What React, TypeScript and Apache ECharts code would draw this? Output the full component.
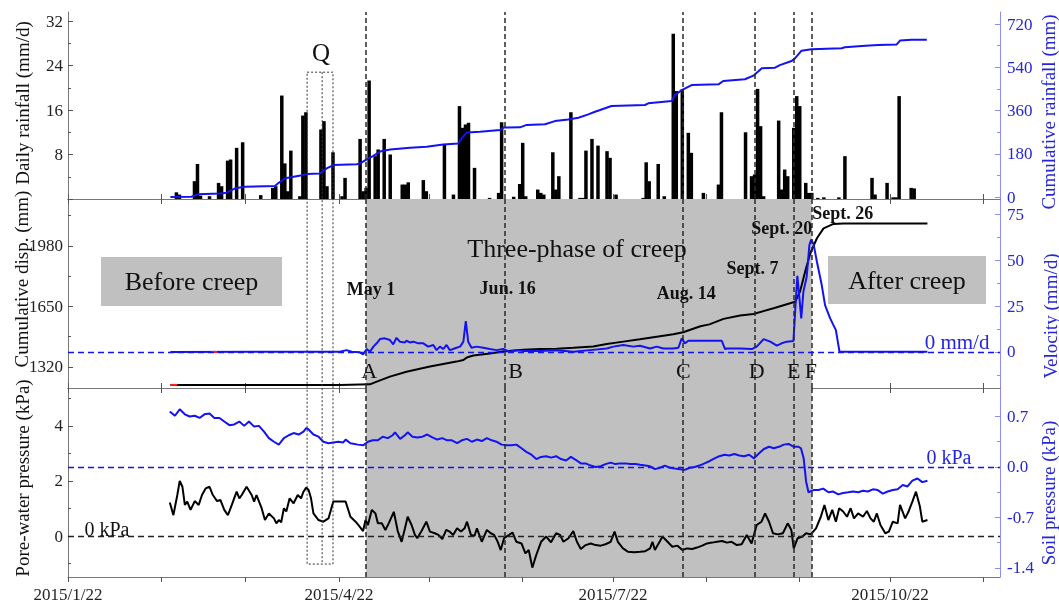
import { useEffect, useRef } from 'react';
import * as echarts from 'echarts';

// Day 0 of the time axis is 2015-01-22; every x value below is a day offset from it.
const START = Date.UTC(2015, 0, 22);
const X_MAX = 309.5;
const MONTH_TICKS = [0, 31, 59, 90, 120, 151, 181, 212, 243, 273, 304];
const DATE_LABELS = [0, 90, 181, 273];

// Daily rainfall (mm/d)
const rainDaily: [number, number][] = [
  [36, 1.2], [37, 0.8], [42, 3.2], [43, 6.3], [44, 0.6], [47, 0.5], [50, 2.9], [51, 2.3], [53, 6.9], [54, 7.1],
  [56, 9.2], [58, 10.2], [64, 0.7], [68, 2.0], [69, 2.3], [71, 18.6], [72, 6.4], [73, 1.4], [74, 8.7], [77, 0.5],
  [78, 15.0], [79, 15.6], [84, 12.5], [85, 14.0], [86, 2.3], [88, 8.4], [91, 0.5], [92, 3.8], [97, 10.8], [98, 1.4],
  [99, 2.0], [100, 21.3], [102, 7.7], [103, 8.9], [105, 10.8], [107, 8.0], [111, 2.6], [112, 2.6], [113, 3.0],
  [118, 3.4], [119, 1.4], [125, 9.8], [128, 0.8], [130, 16.7], [131, 12.8], [132, 13.4], [133, 13.7], [135, 5.6],
  [140, 0.2], [143, 1.1], [144, 13.8], [148, 0.4], [150, 2.7], [151, 10.1], [152, 0.5], [156, 1.7], [157, 1.1],
  [158, 0.8], [161, 8.4], [162, 1.7], [163, 4.1], [167, 15.6], [170, 0.2], [171, 0.2], [172, 8.7], [174, 10.8],
  [176, 9.6], [179, 8.6], [180, 7.4], [182, 0.8], [191, 0.2], [192, 6.6], [193, 3.2], [196, 6.3], [198, 0.5],
  [201, 29.7], [202, 19.4], [204, 19.7], [206, 11.9], [207, 8.3], [211, 1.1], [216, 2.6], [217, 15.6], [225, 12.0],
  [227, 4.1], [228, 4.4], [229, 19.8], [230, 13.1], [231, 0.5], [236, 14.1], [237, 1.7], [238, 5.3], [239, 4.1],
  [241, 12.8], [242, 18.5], [243, 16.7], [245, 2.9], [246, 1.1], [247, 1.1], [249, 0.2], [251, 0.3], [256, 0.3],
  [258, 7.7], [267, 3.8], [268, 0.8], [272, 2.9], [274, 0.3], [275, 0.3], [276, 18.5], [280, 2.0], [281, 1.9],
];

// Cumulative rainfall (mm)
const rainCumulative: [number, number][] = [
  [34, 0], [41, 1], [43, 11], [50.5, 15], [52.7, 18], [55.5, 36], [58.8, 43], [68.7, 46], [69.8, 57], [72.1, 78],
  [78.2, 92], [79.3, 96], [83.7, 98], [85.9, 119], [88.1, 133], [95.9, 136], [97, 140], [99.2, 157], [101.4, 171],
  [103.6, 189], [107, 198], [113.6, 205], [119.1, 209], [124.6, 219], [129.6, 223], [130.7, 244], [132.4, 268],
  [136.8, 272], [143.5, 279], [144.6, 289], [150.1, 290], [152.3, 300], [158.4, 303], [161.7, 316], [166.1, 323],
  [169.5, 330], [172.8, 344], [175, 355], [176.7, 362], [180.5, 379], [191.6, 383], [192.7, 390], [200.5, 400],
  [201.6, 425], [203.8, 445], [207.1, 466], [216, 469], [217.6, 483], [224.8, 490], [227.6, 505], [230.4, 536],
  [234.8, 538], [236.4, 549], [240.3, 566], [241.4, 577], [243.6, 609], [246.9, 615], [256.9, 619], [258, 623],
  [264.8, 630], [269.1, 633], [275.2, 635], [276.3, 651], [280.2, 655], [285.2, 655],
];

// Cumulative displacement (mm)
const displacement: [number, number][] = [
  [34, 1222], [90.3, 1222], [100.3, 1225], [101.9, 1236], [106.9, 1267], [112.4, 1294], [120.2, 1322], [129, 1349],
  [131.3, 1358], [132.4, 1371], [134.6, 1382], [140.1, 1393], [144.5, 1404], [151.2, 1413], [156.7, 1418],
  [162.3, 1419], [167.8, 1424], [174.4, 1431], [178.9, 1445], [184.4, 1458], [189.9, 1471], [195.5, 1485],
  [201, 1498], [204.3, 1509], [207.6, 1528], [210, 1542], [213, 1552], [217.7, 1582], [223.2, 1600], [227.6, 1609],
  [234.3, 1640], [239.8, 1667], [241.5, 1676], [243.1, 1731], [244.8, 1840], [246.5, 1940], [248.7, 2022],
  [250.9, 2076], [254.2, 2100], [257.5, 2103], [285.4, 2103],
];

// Velocity (mm/d)
const velocity: [number, number][] = [
  [34, 0], [90.3, 0.1], [92.5, 1.0], [94.2, 0.1], [96.9, -0.2], [98, -1.3], [99.2, 1.6], [100.3, 0.1], [101.4, 2.9],
  [102.5, 4.7], [103.6, 7.0], [105.2, 7.4], [106.9, 6.5], [108, 4.1], [109.1, 7.7], [110.2, 5.6], [111.9, 5.2],
  [112.4, 6.1], [113.5, 5.2], [114.7, 5.6], [116.3, 4.7], [118, 4.7], [119.6, 2.9], [121.3, 3.8], [122.4, 1.0],
  [123.5, 2.9], [124.6, 1.6], [125.7, 3.8], [126.8, 1.0], [127.9, 1.6], [129, 2.3], [130.2, 2.9], [131.3, 5.6],
  [132.1, 16.8], [132.9, 5.6], [134, 2.3], [135.7, 2.9], [137.9, 2.3], [140.1, 1.6], [142.3, 1.0], [144.5, 1.6],
  [146.8, 0.1], [149, 1.0], [151.2, 0.5], [156.7, 0.5], [162.3, 0.9], [167.8, 0.1], [173.3, 1.0], [178.9, 1.9],
  [181.1, 2.9], [184.4, 3.8], [187.7, 2.9], [189.9, 3.4], [193.3, 1.9], [195.5, 2.9], [197.7, 1.9], [201, 1.9],
  [202.7, 2.3], [203.8, 7.4], [204.9, 4.7], [206, 6.1], [217.1, 6.1], [218.2, 1.6], [218.8, 1.9], [223.2, 1.9],
  [227.1, 1.6], [228.7, 2.9], [231, 7.0], [233.2, 5.6], [235.4, 3.4], [237, 4.7], [238.7, 5.6], [240.9, 5.9],
  [241.8, 30.9], [242.2, 41.4], [242.9, 29.1], [243.5, 18.3], [244.2, 32.7], [245.3, 40.9], [246.2, 58.1],
  [246.8, 61.2], [247.6, 58.5], [248.7, 49.1], [250.3, 36.4], [251.4, 25.5], [253.1, 18.3], [255, 11.9],
  [256.2, 0.1], [285.4, 0.1],
];

// Short red-flagged stretches on the displacement and velocity records
const flaggedDisplacement: [number, number][] = [[34, 1222], [36.3, 1222]];
const flaggedVelocity: [number, number][] = [[47.5, 0], [49.5, 0]];

// Pore-water pressure (kPa)
const porePressure: [number, number][] = [
  [33.8, 1.22], [35.0, 0.76], [36.3, 1.49], [37.1, 2.0], [38.0, 1.79], [38.8, 1.13], [39.6, 1.25], [40.7, 0.95],
  [42.1, 1.27], [43.4, 1.13], [44.5, 1.49], [45.7, 1.73], [47.0, 1.79], [48.1, 1.49], [49.5, 1.27], [50.6, 1.31],
  [51.9, 0.95], [53.1, 0.76], [54.4, 1.13], [56.0, 1.61], [56.9, 1.37], [57.7, 1.49], [59.3, 1.79], [61.0, 1.49],
  [61.8, 1.25], [62.6, 1.49], [64.3, 1.01], [65.4, 0.58], [66.7, 0.82], [68.4, 0.64], [69.2, 0.46], [70.0, 0.58],
  [70.8, 0.5], [71.7, 1.01], [72.5, 0.89], [73.6, 1.37], [74.9, 1.19], [76.3, 1.49], [77.4, 1.37], [78.2, 1.61],
  [79.1, 1.76], [79.9, 1.67], [80.7, 1.37], [81.5, 0.82], [83.2, 0.58], [84.8, 0.52], [86.5, 0.64], [88.1, 1.25],
  [89.7, 1.25], [92.2, 1.25], [93.8, 0.7], [95.5, 0.52], [96.6, 0.38], [98.0, 0.18], [98.8, 0.58], [99.6, 0.4],
  [100.9, 0.95], [102.1, 0.82], [102.9, 0.46], [104.2, 0.46], [105.4, 0.22], [106.5, 0.46], [108.2, 0.88],
  [109.5, 0.18], [110.8, -0.21], [111.9, 0.28], [112.8, 0.7], [114.1, 0.4], [115.2, 0.04], [116.0, -0.08],
  [117.4, 0.18], [119.0, 0.52], [120.2, 0.16], [121.8, 0.1], [123.0, 0.04], [124.3, -0.11], [125.6, 0.22],
  [126.7, 0.16], [127.9, 0.04], [129.2, 0.28], [130.5, 0.16], [131.7, 0.28], [132.5, 0.52], [133.8, 0.04],
  [135.0, 0.01], [135.8, 0.28], [137.4, -0.21], [139.1, 0.22], [140.4, 0.1], [141.5, 0.04], [142.7, -0.21],
  [143.7, -0.51], [144.8, -0.08], [146.5, 0.04], [147.6, 0.13], [148.9, -0.21], [150.6, -0.27], [151.9, -0.63],
  [153.0, -0.51], [154.2, -1.15], [155.5, -0.69], [157.1, -0.21], [158.8, -0.02], [160.4, -0.23], [162.1, 0.1],
  [163.4, 0.04], [164.5, -0.21], [166.2, -0.08], [167.8, 0.18], [169.0, -0.21], [170.3, -0.47], [171.9, -0.33],
  [173.6, -0.27], [175.2, -0.33], [176.9, -0.35], [178.5, -0.3], [180.2, -0.21], [181.5, 0.16], [182.6, -0.21],
  [184.3, -0.45], [185.9, -0.57], [188.0, -0.59], [190.0, -0.57], [191.7, -0.55], [193.3, -0.45], [194.1, -0.21],
  [194.9, -0.51], [196.6, -0.18], [197.4, -0.02], [199.1, -0.21], [200.7, -0.39], [202.4, -0.35], [204.0, -0.51],
  [205.6, -0.45], [207.3, -0.47], [208.9, -0.42], [210.6, -0.35], [212.2, -0.27], [213.9, -0.24], [215.5, -0.21],
  [217.2, -0.18], [218.8, -0.24], [220.4, -0.21], [222.1, -0.33], [223.7, -0.3], [225.4, 0.04], [227.0, -0.27],
  [228.7, 0.4], [230.3, 0.52], [231.5, 0.82], [232.8, 0.52], [234.1, 0.1], [235.7, 0.06], [237.4, 0.1],
  [239.0, 0.46], [240.2, 0.22], [241.0, -0.45], [242.3, -0.08], [243.9, -0.02], [245.1, 0.1], [246.7, 0.06],
  [248.4, 0.28], [250.0, 0.7], [251.2, 1.13], [252.5, 0.58], [253.8, 0.95], [255.0, 0.52], [256.1, 1.01],
  [257.4, 0.89], [258.7, 0.7], [259.9, 1.01], [261.0, 0.64], [262.4, 0.82], [264.0, 0.7], [265.3, 0.91],
  [266.5, 0.64], [267.6, 0.52], [268.6, 0.82], [269.8, 0.4], [271.4, 0.1], [272.6, 0.16], [273.9, 0.52],
  [275.5, 0.46], [276.3, 1.13], [278.0, 0.64], [279.1, 0.88], [280.4, 1.25], [281.6, 1.61], [282.9, 1.07],
  [283.7, 0.52], [285.4, 0.58],
];

// Soil pressure (kPa)
const soilPressure: [number, number][] = [
  [33.8, 0.77], [35.5, 0.71], [37.1, 0.8], [38.8, 0.73], [40.4, 0.7], [42.1, 0.71], [43.7, 0.68], [45.3, 0.73],
  [47.0, 0.74], [48.6, 0.68], [50.3, 0.68], [51.9, 0.63], [53.6, 0.58], [55.2, 0.59], [56.9, 0.63], [58.5, 0.57],
  [60.1, 0.63], [61.8, 0.56], [63.4, 0.57], [65.1, 0.49], [66.7, 0.4], [68.4, 0.35], [70.0, 0.31], [71.7, 0.4],
  [73.3, 0.44], [74.9, 0.47], [76.6, 0.45], [78.2, 0.49], [79.1, 0.54], [79.9, 0.52], [81.5, 0.45], [83.2, 0.42],
  [84.8, 0.35], [86.5, 0.33], [88.1, 0.34], [89.7, 0.35], [91.4, 0.34], [92.2, 0.38], [93.8, 0.33], [96.3, 0.31],
  [98.0, 0.3], [99.6, 0.35], [101.2, 0.37], [102.9, 0.37], [104.5, 0.42], [106.2, 0.4], [107.8, 0.44],
  [108.6, 0.48], [110.3, 0.39], [111.9, 0.44], [112.8, 0.48], [114.4, 0.42], [116.0, 0.41], [117.7, 0.42],
  [119.3, 0.45], [121.0, 0.41], [122.6, 0.38], [124.3, 0.4], [125.9, 0.37], [127.5, 0.37], [129.2, 0.33],
  [130.8, 0.37], [132.5, 0.39], [134.1, 0.35], [135.8, 0.38], [137.4, 0.36], [139.1, 0.4], [140.7, 0.37],
  [142.3, 0.35], [144.0, 0.31], [145.6, 0.3], [147.3, 0.3], [148.9, 0.31], [150.6, 0.26], [152.2, 0.21],
  [153.9, 0.17], [155.5, 0.11], [157.1, 0.14], [158.8, 0.15], [160.4, 0.13], [162.1, 0.15], [163.7, 0.11],
  [165.4, 0.09], [167.0, 0.14], [168.6, 0.1], [170.3, 0.05], [171.9, 0.05], [173.6, 0.02], [175.2, 0.0],
  [176.9, 0.01], [178.5, 0.04], [180.2, 0.06], [181.8, 0.04], [183.4, 0.05], [185.1, 0.05], [186.7, 0.04],
  [188.4, 0.04], [190.0, 0.03], [191.7, 0.02], [193.3, 0.01], [194.9, -0.03], [196.6, -0.01], [198.2, 0.02],
  [199.9, -0.01], [201.5, -0.02], [203.2, -0.03], [204.8, -0.04], [206.5, -0.01], [208.1, 0.0], [209.7, 0.02],
  [211.4, 0.05], [213.0, 0.08], [214.7, 0.12], [216.3, 0.15], [218.0, 0.17], [219.6, 0.16], [221.3, 0.18],
  [222.9, 0.16], [224.5, 0.15], [226.2, 0.17], [227.8, 0.12], [229.5, 0.19], [231.1, 0.25], [232.8, 0.28],
  [234.4, 0.26], [236.1, 0.28], [237.7, 0.31], [239.3, 0.32], [241.0, 0.28], [242.6, 0.28], [243.4, 0.26],
  [244.3, 0.12], [245.1, -0.2], [245.9, -0.35], [247.6, -0.32], [249.2, -0.32], [250.8, -0.3], [252.5, -0.35],
  [254.1, -0.34], [255.8, -0.38], [257.4, -0.36], [259.1, -0.35], [260.7, -0.34], [262.4, -0.35], [264.0, -0.33],
  [265.6, -0.34], [267.3, -0.31], [268.9, -0.32], [270.6, -0.37], [272.2, -0.34], [273.9, -0.32], [275.5, -0.31],
  [277.2, -0.25], [278.8, -0.27], [280.4, -0.19], [282.1, -0.16], [283.7, -0.21], [285.4, -0.19],
];

// Creep milestones
const eventDays = [99, 145, 204, 228, 241, 247];
const eventLetters = ['A', 'B', 'C', 'D', 'E', 'F'];
const eventDates = ['May 1', 'Jun. 16', 'Aug. 14', 'Sept. 7', 'Sept. 20', 'Sept. 26'];
const creepWindow = [99, 247];
// Window Q (days) and its vertical extent (rainfall mm at the top, pore pressure kPa at the bottom)
const qWindow = [79.4, 84.4, 88.0];
const qTopRain = 22.8;
const qBottomPore = -1.02;

// Label placement around each milestone: [date dx, date y, letter dx]
const eventLabelLayout: [number, number, number][] = [
  [5, 289, 3], [3, 288, 11], [4, 293, 1], [-2, 268, 2], [-12, 228, 0], [31, 213, -1],
];

const FONT = '"Liberation Serif", "Times New Roman", serif';
const BLUE = '#1212f2';
const AXIS_BLUE = '#8c8cff';
const LABEL_BLUE = '#2626d9';
const AXIS_GRAY = '#777';
const TEXT = '#111';
const SHADE = '#c0c0c0';

const dateText = (d: number) => {
  const t = new Date(START + Math.round(d) * 86400000);
  return `${t.getUTCFullYear()}/${t.getUTCMonth() + 1}/${t.getUTCDate()}`;
};
const plain = (v: number) => String(v);

const xAxisOf = (gridIndex: number, position: string, inside: boolean, labels: boolean) => ({
  type: 'value',
  gridIndex,
  position,
  min: 0,
  max: X_MAX,
  splitLine: { show: false },
  axisLine: { show: true, onZero: false, lineStyle: { color: AXIS_GRAY, width: 1 } },
  axisTick: { show: true, inside, length: 5, customValues: MONTH_TICKS, lineStyle: { color: '#555' } },
  axisLabel: labels
    ? { show: true, customValues: DATE_LABELS, formatter: (v: number) => dateText(v), margin: 9, fontSize: 17, fontFamily: FONT, color: '#222' }
    : { show: false },
});

const yAxisOf = (
  gridIndex: number, position: string, min: number, max: number,
  labels: number[], ticks: number[], right: boolean, fmt: (v: number) => string = plain,
) => ({
  type: 'value',
  gridIndex,
  position,
  min,
  max,
  splitLine: { show: false },
  axisLine: { show: true, onZero: false, lineStyle: { color: right ? AXIS_BLUE : AXIS_GRAY, width: 1 } },
  axisTick: { show: true, inside: true, length: 5, customValues: ticks, lineStyle: { color: right ? AXIS_BLUE : '#555' } },
  axisLabel: {
    customValues: labels,
    formatter: fmt,
    margin: right ? 7 : 5,
    fontSize: 17,
    fontFamily: FONT,
    color: right ? LABEL_BLUE : '#222',
  },
});

const minorAxisOf = (gridIndex: number, position: string, min: number, max: number, ticks: number[], right: boolean) => ({
  type: 'value',
  gridIndex,
  position,
  min,
  max,
  splitLine: { show: false },
  axisLine: { show: false, onZero: false },
  axisLabel: { show: false },
  axisTick: { show: true, inside: true, length: 3, customValues: ticks, lineStyle: { color: right ? AXIS_BLUE : '#555' } },
});

const Y = {
  rain: [0, 33.62],
  cum: [-8.3, 770],
  disp: [1205, 2236],
  vel: [-19.6, 83.2],
  pore: [-1.49, 5.38],
  soil: [-1.525, 1.095],
};

const eventLineStyle = { color: '#2a2a2a', type: [5, 3], width: 1.5 };
const eventLines = {
  silent: true,
  symbol: ['none', 'none'],
  label: { show: false },
  lineStyle: eventLineStyle,
  data: eventDays.map((d) => ({ xAxis: d })),
};
const creepArea = {
  silent: true,
  label: { show: false },
  itemStyle: { color: SHADE },
  data: [[{ xAxis: creepWindow[0] }, { xAxis: creepWindow[1] }]],
};
const zeroLine = (color: string) => ({
  silent: true,
  symbol: ['none', 'none'],
  label: { show: false },
  lineStyle: { color, type: [6, 4], width: 1.4 },
  data: [{ yAxis: 0 }],
});

const lineSeries = (name: string, data: [number, number][], xAxisIndex: number, yAxisIndex: number, color: string, extra: any = {}) => ({
  name,
  type: 'line',
  xAxisIndex,
  yAxisIndex,
  data,
  symbol: 'none',
  lineStyle: { color, width: 2 },
  itemStyle: { color },
  ...extra,
});

export default function App() {
  const ref = useRef<HTMLDivElement>(null);

  useEffect(() => {
    if (!ref.current) return;
    const chart = echarts.init(ref.current, null, { renderer: 'svg' });

    const option: any = {
      animation: false,
      grid: [
        { left: 68, right: 59, top: 12, height: 187 },
        { left: 68, right: 59, top: 199, height: 189 },
        { left: 68, right: 59, top: 388, height: 189 },
      ],
      xAxis: [
        xAxisOf(0, 'bottom', true, false),
        xAxisOf(1, 'bottom', true, false),
        xAxisOf(1, 'top', true, false),
        xAxisOf(2, 'bottom', false, true),
        xAxisOf(2, 'top', true, false),
      ],
      yAxis: [
        yAxisOf(0, 'left', Y.rain[0], Y.rain[1], [8, 16, 24, 32], [0, 8, 16, 24, 32], false),
        yAxisOf(0, 'right', Y.cum[0], Y.cum[1], [0, 180, 360, 540, 720], [0, 180, 360, 540, 720], true),
        yAxisOf(1, 'left', Y.disp[0], Y.disp[1], [1320, 1650, 1980], [1320, 1650, 1980], false),
        yAxisOf(1, 'right', Y.vel[0], Y.vel[1], [0, 25, 50, 75], [0, 25, 50, 75], true),
        yAxisOf(2, 'left', Y.pore[0], Y.pore[1], [0, 2, 4], [0, 2, 4], false),
        yAxisOf(2, 'right', Y.soil[0], Y.soil[1], [-1.4, -0.7, 0, 0.7], [-1.4, -0.7, 0, 0.7], true, (v: number) => v.toFixed(1)),
        minorAxisOf(0, 'left', Y.rain[0], Y.rain[1], [4, 12, 20, 28], false),
        minorAxisOf(0, 'right', Y.cum[0], Y.cum[1], [90, 270, 450, 630], true),
        minorAxisOf(1, 'left', Y.disp[0], Y.disp[1], [1485, 1815, 2145], false),
        minorAxisOf(1, 'right', Y.vel[0], Y.vel[1], [-12.5, 12.5, 37.5, 62.5], true),
        minorAxisOf(2, 'left', Y.pore[0], Y.pore[1], [-1, 1, 3, 5], false),
        minorAxisOf(2, 'right', Y.soil[0], Y.soil[1], [-1.05, -0.35, 0.35], true),
      ],
      series: [
        {
          name: 'Daily rainfall',
          type: 'bar',
          xAxisIndex: 0,
          yAxisIndex: 0,
          data: rainDaily,
          barWidth: 3.5,
          itemStyle: { color: '#000' },
          markLine: eventLines,
        },
        lineSeries('Cumulative rainfall', rainCumulative, 0, 1, BLUE),
        lineSeries('Cumulative displacement', displacement, 1, 2, '#000', { markArea: creepArea, markLine: eventLines }),
        lineSeries('Velocity', velocity, 1, 3, BLUE, { markLine: zeroLine(BLUE) }),
        lineSeries('Pore-water pressure', porePressure, 3, 4, '#000', {
          markArea: creepArea,
          markLine: { ...eventLines, data: eventDays.map((d) => ({ xAxis: d })) },
        }),
        lineSeries('Pore-water zero', [[0, 0]] as [number, number][], 3, 4, '#000', {
          lineStyle: { width: 0 },
          markLine: zeroLine('#222'),
        }),
        lineSeries('Soil pressure', soilPressure, 3, 5, BLUE, { markLine: zeroLine(BLUE) }),
        lineSeries('Flagged displacement', flaggedDisplacement, 1, 2, '#ff2020'),
        lineSeries('Flagged velocity', flaggedVelocity, 1, 3, '#ff2020'),
      ],
    };
    chart.setOption(option);

    const xPx = (d: number) => chart.convertToPixel({ xAxisIndex: 0 }, d) as number;
    const rainY = (v: number) => chart.convertToPixel({ yAxisIndex: 0 }, v) as number;
    const poreY = (v: number) => chart.convertToPixel({ yAxisIndex: 4 }, v) as number;

    const text = (t: string, x: number, y: number, size: number, extra: any = {}) => ({
      type: 'text',
      x,
      y,
      z: 100,
      silent: true,
      ...extra,
      style: {
        text: t,
        fontSize: size,
        fontFamily: FONT,
        fill: TEXT,
        textAlign: 'center',
        textVerticalAlign: 'middle',
        ...(extra.style || {}),
      },
    });
    const vertical = (t: string, x: number, y: number, color: string) =>
      text(t, x, y, 19, { rotation: Math.PI / 2, style: { fill: color } });

    const qTop = rainY(qTopRain);
    const qBottom = poreY(qBottomPore);
    const graphic: any[] = [
      // Axis titles
      vertical('Daily rainfall (mm/d)', 22, 103, TEXT),
      vertical('Cumulative disp. (mm)', 21, 279, TEXT),
      vertical('Pore-water pressure (kPa)', 22, 478, TEXT),
      vertical('Cumulative rainfall (mm)', 1048, 112, LABEL_BLUE),
      vertical('Velocity (mm/d)', 1050, 316, LABEL_BLUE),
      vertical('Soil pressure (kPa)', 1048, 493, LABEL_BLUE),
      // Phase boxes
      { type: 'rect', z: 100, silent: true, shape: { x: 101, y: 257, width: 181, height: 49 }, style: { fill: SHADE } },
      text('Before creep', 191.5, 281.5, 26),
      { type: 'rect', z: 100, silent: true, shape: { x: 828, y: 256, width: 158, height: 48 }, style: { fill: SHADE } },
      text('After creep', 907, 280, 26),
      text('Three-phase of creep', 577, 248, 26),
      // Reference labels
      text('0 mm/d', 957, 342, 21, { style: { fill: LABEL_BLUE } }),
      text('0 kPa', 949, 457, 20, { style: { fill: LABEL_BLUE } }),
      text('0 kPa', 107, 529, 20),
      // Window Q
      {
        type: 'rect', z: 100, silent: true,
        shape: { x: xPx(qWindow[0]), y: qTop, width: xPx(qWindow[2]) - xPx(qWindow[0]), height: qBottom - qTop },
        style: { fill: 'none', stroke: '#333', lineWidth: 1, lineDash: [2, 2] },
      },
      {
        type: 'line', z: 100, silent: true,
        shape: { x1: xPx(qWindow[1]), y1: qTop, x2: xPx(qWindow[1]), y2: qBottom },
        style: { stroke: '#333', lineWidth: 1, lineDash: [2, 2] },
      },
      text('Q', xPx(qWindow[1]) - 1, qTop - 20, 25),
    ];
    eventDays.forEach((d, i) => {
      const [dx, dy, lx] = eventLabelLayout[i];
      const x = xPx(d);
      graphic.push(text(eventDates[i], x + dx, dy, 18, { style: { fontWeight: 'bold' } }));
      graphic.push(text(eventLetters[i], x + lx, 370, 22));
    });
    chart.setOption({ graphic });

    return () => chart.dispose();
  }, []);

  return <div ref={ref} style={{ position: 'fixed', left: 0, top: 0, width: 1059, height: 603 }} />;
}
